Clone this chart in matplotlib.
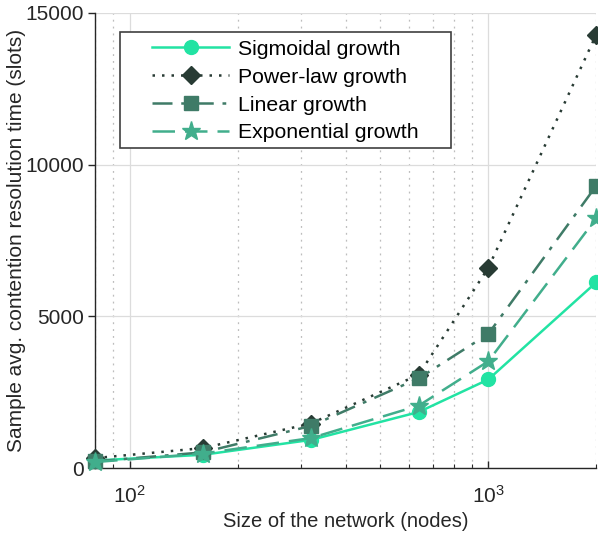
import numpy as np
import matplotlib
matplotlib.use('Agg')
import matplotlib.pyplot as plt
from matplotlib.patches import Rectangle
from matplotlib.ticker import LogFormatterMathtext, NullFormatter, FixedLocator

plt.rcParams['font.family'] = ['Liberation Sans', 'DejaVu Sans']
plt.rcParams['mathtext.fontset'] = 'custom'
plt.rcParams['mathtext.rm'] = 'Liberation Sans'
plt.rcParams['mathtext.it'] = 'Liberation Sans:italic'

# network sizes (nodes)
nodes = [80, 160, 320, 640, 1000, 2000]

# avg. contention resolution time (slots)
sigmoidal = [250, 440, 930, 1850, 2920, 6120]
power_law = [330, 660, 1470, 3080, 6600, 14280]
linear = [220, 520, 1390, 2960, 4420, 9300]
exponential = [200, 480, 990, 2060, 3520, 8230]

series = [
    ('Sigmoidal growth', sigmoidal, '#22e3a3', '-', 'o', 10),
    ('Power-law growth', power_law, '#283b34', (0, (1, 2.8)), 'D', 9.5),
    ('Linear growth', linear, '#3f7b67', (0, (8, 3.5, 1.5, 3.5)), 's', 10),
    ('Exponential growth', exponential, '#41ae8c', (0, (9, 4)), '*', 14),
]

fig = plt.figure(figsize=(5.98, 5.35), dpi=100)
ax = fig.add_axes([0.159, 0.125, 0.838, 0.851])

for label, vals, color, ls, mk, ms in series:
    ax.plot(nodes, vals, color=color, linestyle=ls, linewidth=1.8,
            marker=mk, markersize=ms, markeredgecolor=color,
            markerfacecolor=color, label=label, clip_on=False, zorder=3)

ax.set_xscale('log')
ax.set_xlim(80, 2000)
ax.set_ylim(0, 15000)
ax.set_yticks([0, 5000, 10000, 15000])

ax.xaxis.set_major_locator(FixedLocator([100, 1000]))
ax.xaxis.set_major_formatter(LogFormatterMathtext())
ax.xaxis.set_minor_locator(FixedLocator([80, 90, 200, 300, 400, 500, 600, 700, 800, 900, 2000]))
ax.xaxis.set_minor_formatter(NullFormatter())

ax.grid(True, which='major', color='#dcdcdc', linewidth=0.9, linestyle='-', zorder=0)
ax.grid(True, which='minor', axis='x', color='#bdbdbd', linewidth=0.9,
        linestyle=(0, (1.5, 4)), zorder=0)
ax.set_axisbelow(True)

for side in ['top', 'right']:
    ax.spines[side].set_visible(False)
for side in ['left', 'bottom']:
    ax.spines[side].set_color('#262626')
    ax.spines[side].set_linewidth(1.0)

ax.tick_params(axis='y', direction='out', length=5, width=1, colors='#262626',
               labelsize=15, labelcolor='#262626', pad=3)
ax.tick_params(axis='x', which='major', direction='in', length=5, width=1,
               colors='#262626', labelsize=15, labelcolor='#262626', pad=12)
ax.tick_params(axis='x', which='minor', direction='in', length=3, width=0.8,
               colors='#262626')

ax.set_xlabel('Size of the network (nodes)', fontsize=14.5, color='#262626', labelpad=4)
ax.set_ylabel('Sample avg. contention resolution time (slots)', fontsize=15,
              color='#262626')
ax.yaxis.set_label_coords(-0.137, 0.5)

# legend box drawn separately (wide Matlab-style frame)
ax.add_patch(Rectangle((0.05, 0.703), 0.661, 0.255, transform=ax.transAxes,
                       facecolor='white', edgecolor='#404040', linewidth=1.2,
                       zorder=4, clip_on=False))
leg = ax.legend(loc='upper left', bbox_to_anchor=(0.114, 0.941), borderaxespad=0,
                borderpad=0, fontsize=15.3, handlelength=3.62, frameon=False,
                labelspacing=0.42, handletextpad=0.42)
leg.set_zorder(5)

fig.savefig('out.png', dpi=100, facecolor='white')
